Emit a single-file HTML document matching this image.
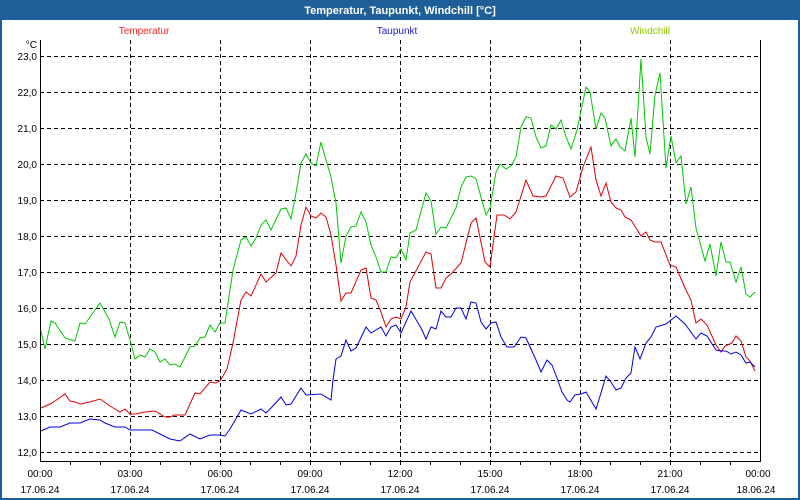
<!DOCTYPE html>
<html><head><meta charset="utf-8"><style>
html,body{margin:0;padding:0;background:#fff;}
svg{display:block;font-family:"Liberation Sans",sans-serif;}
</style></head><body>
<svg width="800" height="500" xmlns="http://www.w3.org/2000/svg">
<rect x="0" y="0" width="800" height="500" fill="#1f5f99"/>
<rect x="2" y="20" width="796" height="478" fill="#fff"/>
<text x="400" y="14" fill="#fff" font-size="11" font-weight="bold" text-anchor="middle">Temperatur, Taupunkt, Windchill [°C]</text>
<text x="144" y="34" fill="#ff2020" font-size="10" text-anchor="middle">Temperatur</text>
<text x="397" y="34" fill="#2020d0" font-size="10" text-anchor="middle">Taupunkt</text>
<text x="650" y="34" fill="#90c800" font-size="10" text-anchor="middle">Windchill</text>
<g stroke="#000" stroke-width="1" stroke-dasharray="4,3" fill="none">
<path d="M40 56.5H760M40 92.5H760M40 128.5H760M40 164.5H760M40 200.5H760M40 236.5H760M40 272.5H760M40 308.5H760M40 344.5H760M40 380.5H760M40 416.5H760M40 452.5H760"/>
<path d="M130.5 40V461M220.5 40V461M310.5 40V461M400.5 40V461M490.5 40V461M580.5 40V461M670.5 40V461"/>
</g>
<path d="M40.5 40V461.5H760.5V40" stroke="#000" fill="none"/>
<g stroke="#000"><path d="M70.5 461v4M100.5 461v4M130.5 461v4M160.5 461v4M190.5 461v4M220.5 461v4M250.5 461v4M280.5 461v4M310.5 461v4M340.5 461v4M370.5 461v4M400.5 461v4M430.5 461v4M460.5 461v4M490.5 461v4M520.5 461v4M550.5 461v4M580.5 461v4M610.5 461v4M640.5 461v4M670.5 461v4M700.5 461v4M730.5 461v4"/></g>
<g font-size="10" fill="#000" text-anchor="end">
<text x="37" y="48">°C</text>
<text x="37" y="60">23,0</text><text x="37" y="96">22,0</text><text x="37" y="132">21,0</text><text x="37" y="168">20,0</text><text x="37" y="204">19,0</text><text x="37" y="240">18,0</text><text x="37" y="276">17,0</text><text x="37" y="312">16,0</text><text x="37" y="348">15,0</text><text x="37" y="384">14,0</text><text x="37" y="420">13,0</text><text x="37" y="456">12,0</text>
</g>
<g font-size="10" fill="#000" text-anchor="middle">
<text x="40" y="477">00:00</text><text x="130" y="477">03:00</text><text x="220" y="477">06:00</text><text x="310" y="477">09:00</text><text x="400" y="477">12:00</text><text x="490" y="477">15:00</text><text x="580" y="477">18:00</text><text x="670" y="477">21:00</text><text x="758" y="477">00:00</text>
<text x="40" y="493">17.06.24</text><text x="130" y="493">17.06.24</text><text x="220" y="493">17.06.24</text><text x="310" y="493">17.06.24</text><text x="400" y="493">17.06.24</text><text x="490" y="493">17.06.24</text><text x="580" y="493">17.06.24</text><text x="670" y="493">17.06.24</text><text x="756" y="493">18.06.24</text>
</g>
<g fill="none" stroke-width="1">
<polyline stroke="#00c800" points="41,331 45,349 51,321 55,323 65,338 75,341 80,323 85,324 100,303 109,319 115,337 120,322 125,323 130,340 135,359 140,355 145,357 150,349 155,352 160,362 165,359 170,365 175,364 180,367 190,347 195,346 200,338 205,337 210,325 215,332 220,323 225,323 233,270 241,240 246,237 251,246 256,238 261,225 266,220 271,230 281,209 286,208 291,219 296,193 301,163 306,154 311,163 316,166 321,142 326,160 331,177 336,203 341,263 346,236 351,227 356,226 361,212 366,222 371,245 376,257 381,272 386,272 391,257 396,258 401,249 406,260 410,233 416,230 426,193 431,201 436,234 441,227 446,228 456,208 461,187 466,177 471,176 476,179 486,215 490,208 496,172 500,164 506,169 511,166 516,157 521,127 526,117 531,118 536,137 541,148 546,146 551,125 556,129 561,120 566,137 571,149 577,130 586,87 590,92 596,129 601,113 605,118 611,146 616,139 620,147 625,151 631,118 635,157 641,59 646,137 650,154 655,95 660,73 666,168 671,136 676,163 681,156 686,204 691,187 696,228 705,261 710,244 716,276 721,242 726,262 730,262 736,282 741,267 746,294 750,297 755,292"/>
<polyline stroke="#e00000" points="41,408 50,404 55,401 65,394 70,401 75,402 80,404 90,402 100,399 110,406 120,412 125,409 130,414 135,414 145,412 155,411 165,417 170,417 175,415 185,415 195,393 200,394 210,382 215,383 220,381 227,369 233,343 241,300 246,292 251,296 261,274 266,282 276,273 281,253 291,266 296,256 301,225 306,207 311,216 316,218 321,213 326,217 331,235 336,265 341,301 346,293 351,293 361,270 366,268 371,298 376,300 381,312 386,327 391,319 396,317 401,319 406,307 410,282 426,252 431,254 436,288 441,288 446,278 451,274 461,263 471,223 476,218 485,262 490,267 497,215 504,215 510,219 516,212 526,180 533,196 541,197 546,196 556,176 563,178 570,197 576,192 583,167 591,147 596,180 601,196 606,183 611,202 616,208 621,210 625,217 631,220 641,236 646,232 650,240 655,242 661,242 670,265 676,267 685,288 691,300 696,323 701,319 707,325 716,345 721,352 725,346 732,343 736,336 741,341 746,357 750,361 755,371"/>
<polyline stroke="#0000e0" points="41,431 50,427 60,427 70,423 80,423 90,419 100,420 105,423 115,427 125,427 130,430 152,430 162,435 170,439 180,441 190,434 200,439 210,435 220,435 225,436 230,429 241,410 251,414 261,409 266,413 271,408 281,397 286,405 291,404 301,388 306,395 321,394 331,400 333,380 336,359 341,356 346,340 351,351 356,348 366,327 371,333 381,327 386,336 391,327 396,325 401,333 411,311 421,328 426,339 431,327 436,329 441,311 446,317 451,317 456,308 461,308 466,319 471,302 476,303 481,322 486,329 491,323 496,322 501,337 507,347 514,347 521,337 526,338 531,349 536,360 541,372 547,360 552,365 557,378 562,392 567,400 570,402 575,395 581,394 586,392 596,409 601,393 606,376 611,382 616,390 621,388 626,378 631,373 635,347 640,359 646,343 651,337 656,327 666,324 676,316 685,324 696,339 701,333 707,336 716,350 721,351 726,351 731,354 736,352 741,355 746,363 750,362 755,367"/>
</g>
</svg>
</body></html>
